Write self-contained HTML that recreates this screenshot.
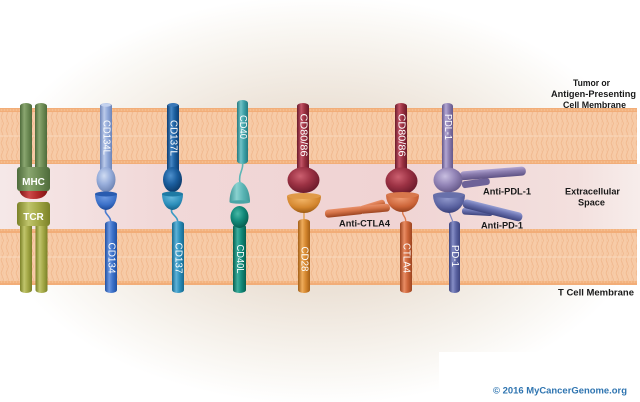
<!DOCTYPE html>
<html><head><meta charset="utf-8"><style>
html,body{margin:0;padding:0;background:#fff;}
svg{display:block;}
text{font-family:"Liberation Sans",Arial,sans-serif;}
.lb{font-weight:bold;font-size:9px;fill:#1a1a1a;}
.rl{font-size:10px;fill:#fff;}
</style></head><body>
<svg width="640" height="402" viewBox="0 0 640 402" xmlns="http://www.w3.org/2000/svg">
<defs>
<radialGradient id="bg" cx="320" cy="200" r="330" gradientUnits="userSpaceOnUse" gradientTransform="translate(320 200) scale(1 0.62) translate(-320 -200)">
<stop offset="0" stop-color="#e6d9cc"/><stop offset="0.45" stop-color="#ece2d7"/><stop offset="0.8" stop-color="#f8f5f0"/><stop offset="1" stop-color="#ffffff"/>
</radialGradient>
<linearGradient id="pink" x1="0" x2="1" y1="0" y2="0">
<stop offset="0" stop-color="#f5e8e8"/><stop offset="0.25" stop-color="#f1d8d8"/><stop offset="0.6" stop-color="#f0d3d3"/><stop offset="0.9" stop-color="#f3e0de"/><stop offset="1" stop-color="#f7edeb"/>
</linearGradient>
<pattern id="lip" width="5" height="26" patternUnits="userSpaceOnUse">
<path d="M1 0 L3.5 6.5 L1 13 L3.5 19.5 L1 26" fill="none" stroke="#eeac80" stroke-width="0.7" opacity="0.8"/>
<path d="M3.5 0 L1 6.5 L3.5 13 L1 19.5 L3.5 26" fill="none" stroke="#f2bb94" stroke-width="0.5" opacity="0.6"/>
</pattern>
<pattern id="bead" width="3" height="4" patternUnits="userSpaceOnUse">
<rect width="3" height="4" fill="#f2ad78"/><circle cx="1.5" cy="2" r="1.1" fill="#f6bd8e"/>
</pattern>
<linearGradient id="g_mhc" x1="0" x2="1"><stop offset="0" stop-color="#4e6b3b"/><stop offset="0.35" stop-color="#8aa670"/><stop offset="0.65" stop-color="#6e8c55"/><stop offset="1" stop-color="#4e6b3b"/></linearGradient>
<linearGradient id="g_tcr" x1="0" x2="1"><stop offset="0" stop-color="#7b8128"/><stop offset="0.35" stop-color="#c0c56c"/><stop offset="0.65" stop-color="#a3a846"/><stop offset="1" stop-color="#7b8128"/></linearGradient>
<linearGradient id="g_red" x1="0" x2="1"><stop offset="0" stop-color="#7e1414"/><stop offset="0.35" stop-color="#cc4a4a"/><stop offset="0.65" stop-color="#b02828"/><stop offset="1" stop-color="#7e1414"/></linearGradient>
<linearGradient id="g_134L" x1="0" x2="1"><stop offset="0" stop-color="#6c84b8"/><stop offset="0.35" stop-color="#bccbea"/><stop offset="0.65" stop-color="#90a8d8"/><stop offset="1" stop-color="#6c84b8"/></linearGradient>
<linearGradient id="g_134" x1="0" x2="1"><stop offset="0" stop-color="#2150a2"/><stop offset="0.35" stop-color="#6a96e0"/><stop offset="0.65" stop-color="#3b70c8"/><stop offset="1" stop-color="#2150a2"/></linearGradient>
<linearGradient id="g_137L" x1="0" x2="1"><stop offset="0" stop-color="#0d3e72"/><stop offset="0.35" stop-color="#4686c4"/><stop offset="0.65" stop-color="#1b5e9e"/><stop offset="1" stop-color="#0d3e72"/></linearGradient>
<linearGradient id="g_137" x1="0" x2="1"><stop offset="0" stop-color="#17698f"/><stop offset="0.35" stop-color="#5eb2d8"/><stop offset="0.65" stop-color="#2b8eba"/><stop offset="1" stop-color="#17698f"/></linearGradient>
<linearGradient id="g_40" x1="0" x2="1"><stop offset="0" stop-color="#257a80"/><stop offset="0.35" stop-color="#70c2c6"/><stop offset="0.65" stop-color="#3c9fa6"/><stop offset="1" stop-color="#257a80"/></linearGradient>
<linearGradient id="g_40b" x1="0" x2="1"><stop offset="0" stop-color="#3f9898"/><stop offset="0.35" stop-color="#8ad2d0"/><stop offset="0.65" stop-color="#5cb6b6"/><stop offset="1" stop-color="#3f9898"/></linearGradient>
<linearGradient id="g_40L" x1="0" x2="1"><stop offset="0" stop-color="#066050"/><stop offset="0.35" stop-color="#3eae9e"/><stop offset="0.65" stop-color="#128a7a"/><stop offset="1" stop-color="#066050"/></linearGradient>
<linearGradient id="g_80" x1="0" x2="1"><stop offset="0" stop-color="#6a1a2a"/><stop offset="0.35" stop-color="#c25466"/><stop offset="0.65" stop-color="#98303f"/><stop offset="1" stop-color="#6a1a2a"/></linearGradient>
<linearGradient id="g_28" x1="0" x2="1"><stop offset="0" stop-color="#a45f16"/><stop offset="0.35" stop-color="#eeac5c"/><stop offset="0.65" stop-color="#d4862e"/><stop offset="1" stop-color="#a45f16"/></linearGradient>
<linearGradient id="g_ct" x1="0" x2="1"><stop offset="0" stop-color="#9c4420"/><stop offset="0.35" stop-color="#e88c64"/><stop offset="0.65" stop-color="#cc6438"/><stop offset="1" stop-color="#9c4420"/></linearGradient>
<linearGradient id="g_pdl" x1="0" x2="1"><stop offset="0" stop-color="#64578a"/><stop offset="0.35" stop-color="#b2a6d2"/><stop offset="0.65" stop-color="#8a7cae"/><stop offset="1" stop-color="#64578a"/></linearGradient>
<linearGradient id="g_pd1" x1="0" x2="1"><stop offset="0" stop-color="#3d447e"/><stop offset="0.35" stop-color="#868ec6"/><stop offset="0.65" stop-color="#5b63a1"/><stop offset="1" stop-color="#3d447e"/></linearGradient>
<linearGradient id="v_ct" x1="0" x2="0" y1="0" y2="1"><stop offset="0" stop-color="#e8906a"/><stop offset="0.4" stop-color="#d8764a"/><stop offset="1" stop-color="#9c4420"/></linearGradient>
<linearGradient id="v_pdl" x1="0" x2="0" y1="0" y2="1"><stop offset="0" stop-color="#b2a6d2"/><stop offset="0.4" stop-color="#8a7cae"/><stop offset="1" stop-color="#5e5284"/></linearGradient>
<linearGradient id="v_pd1" x1="0" x2="0" y1="0" y2="1"><stop offset="0" stop-color="#98a0d4"/><stop offset="0.4" stop-color="#6c74b2"/><stop offset="1" stop-color="#3d447e"/></linearGradient>
<radialGradient id="s_134L" cx="0.4" cy="0.35" r="0.7"><stop offset="0" stop-color="#d0dcf2"/><stop offset="0.5" stop-color="#98aedb"/><stop offset="1" stop-color="#6a80b0"/></radialGradient>
<radialGradient id="s_137L" cx="0.4" cy="0.35" r="0.7"><stop offset="0" stop-color="#4e90cc"/><stop offset="0.5" stop-color="#1b5e9e"/><stop offset="1" stop-color="#0b3866"/></radialGradient>
<radialGradient id="s_40L" cx="0.4" cy="0.35" r="0.7"><stop offset="0" stop-color="#48b8a6"/><stop offset="0.5" stop-color="#128a7a"/><stop offset="1" stop-color="#055a4c"/></radialGradient>
<radialGradient id="s_80" cx="0.4" cy="0.35" r="0.7"><stop offset="0" stop-color="#cc6070"/><stop offset="0.5" stop-color="#9c3244"/><stop offset="1" stop-color="#661828"/></radialGradient>
<radialGradient id="s_pdl" cx="0.4" cy="0.35" r="0.7"><stop offset="0" stop-color="#c8bee0"/><stop offset="0.5" stop-color="#9486b8"/><stop offset="1" stop-color="#625586"/></radialGradient>
<radialGradient id="c_134" cx="0.45" cy="0.2" r="0.8"><stop offset="0" stop-color="#6e9ae2"/><stop offset="0.6" stop-color="#3b70c8"/><stop offset="1" stop-color="#1e4a98"/></radialGradient>
<radialGradient id="c_137" cx="0.45" cy="0.2" r="0.8"><stop offset="0" stop-color="#66b8dc"/><stop offset="0.6" stop-color="#2b8eba"/><stop offset="1" stop-color="#15628a"/></radialGradient>
<radialGradient id="c_28" cx="0.45" cy="0.2" r="0.8"><stop offset="0" stop-color="#f2b466"/><stop offset="0.6" stop-color="#d4862e"/><stop offset="1" stop-color="#9c5a14"/></radialGradient>
<radialGradient id="c_ct" cx="0.45" cy="0.2" r="0.8"><stop offset="0" stop-color="#ee9a72"/><stop offset="0.6" stop-color="#cc6438"/><stop offset="1" stop-color="#94401e"/></radialGradient>
<radialGradient id="c_pd1" cx="0.45" cy="0.2" r="0.8"><stop offset="0" stop-color="#9098cc"/><stop offset="0.6" stop-color="#5b63a1"/><stop offset="1" stop-color="#383f78"/></radialGradient>
</defs>

<rect width="640" height="402" fill="url(#bg)"/>
<rect x="0" y="164" width="640" height="66" fill="url(#pink)"/>
<rect x="439" y="352" width="201" height="50" fill="#ffffff"/>

<g>
<rect x="0" y="108" width="637" height="56" fill="#f7cba7"/>
<rect x="0" y="111" width="637" height="25" fill="url(#lip)"/>
<rect x="0" y="136" width="637" height="25" fill="url(#lip)"/>
<rect x="0" y="135.5" width="637" height="1" fill="#fad8bc"/>
<rect x="0" y="108" width="637" height="4" fill="url(#bead)"/>
<rect x="0" y="160" width="637" height="4" fill="url(#bead)"/>
</g>
<g>
<rect x="0" y="229" width="637" height="56" fill="#f7cba7"/>
<rect x="0" y="232" width="637" height="25" fill="url(#lip)"/>
<rect x="0" y="257" width="637" height="25" fill="url(#lip)"/>
<rect x="0" y="256.5" width="637" height="1" fill="#fad8bc"/>
<rect x="0" y="229" width="637" height="4" fill="url(#bead)"/>
<rect x="0" y="281" width="637" height="4" fill="url(#bead)"/>
</g>

<!-- MHC -->
<rect x="20" y="103" width="12" height="70" rx="6" ry="3" fill="url(#g_mhc)"/>
<rect x="35" y="103" width="12" height="70" rx="6" ry="3" fill="url(#g_mhc)"/>
<path d="M19 187 Q19 199 33.5 199 Q48 199 48 187 Z" fill="url(#g_red)"/>
<rect x="17" y="167" width="33" height="24" rx="3" fill="url(#g_mhc)"/>
<text class="rl" x="33.5" y="185" text-anchor="middle" font-weight="bold" font-size="9">MHC</text>
<!-- TCR -->
<rect x="20" y="218" width="12" height="75" rx="6" ry="3" fill="url(#g_tcr)"/>
<rect x="35.5" y="218" width="12" height="75" rx="6" ry="3" fill="url(#g_tcr)"/>
<rect x="17" y="202" width="33" height="24" rx="3" fill="url(#g_tcr)"/>
<text class="rl" x="33.5" y="220" text-anchor="middle" font-weight="bold" font-size="9">TCR</text>

<!-- CD134L / CD134 -->
<rect x="100" y="103" width="12" height="70" rx="6" ry="3" fill="url(#g_134L)"/>
<ellipse cx="106" cy="105" rx="5" ry="1.8" fill="#c4d2ee"/>
<ellipse cx="106" cy="179.5" rx="9.5" ry="12.5" fill="url(#s_134L)"/>
<path d="M106 209 C103 214 112 216 110.5 223" fill="none" stroke="#4a7cd0" stroke-width="1.6"/>
<path d="M95 194 A11 16 0 0 0 117 194 Z" fill="url(#c_134)"/>
<ellipse cx="106" cy="194" rx="11" ry="2.5" fill="#2a5cb0"/>
<rect x="105" y="221" width="12" height="72" rx="6" ry="3" fill="url(#g_134)"/>

<!-- CD137L / CD137 -->
<rect x="167" y="103" width="12" height="70" rx="6" ry="3" fill="url(#g_137L)"/>
<ellipse cx="173" cy="105" rx="5" ry="1.8" fill="#3a78b8"/>
<ellipse cx="172.5" cy="179.5" rx="9.5" ry="12.5" fill="url(#s_137L)"/>
<path d="M172 209 C169 214 179 216 177.5 223" fill="none" stroke="#3a9ac4" stroke-width="1.6"/>
<path d="M162 194 A10.5 16 0 0 0 183 194 Z" fill="url(#c_137)"/>
<ellipse cx="172.5" cy="194" rx="10.5" ry="2.5" fill="#1f7aa4"/>
<rect x="172" y="221" width="12" height="72" rx="6" ry="3" fill="url(#g_137)"/>

<!-- CD40 / CD40L -->
<rect x="237" y="100" width="11" height="64" rx="5.5" ry="3" fill="url(#g_40)"/>
<path d="M242.5 163 C244 169 238 174 240 183" fill="none" stroke="#5cb6b6" stroke-width="1.6"/>
<path d="M229.5 202 C229.5 191 234 182 239.5 182 C245 182 250 191 250 202 Z" fill="url(#g_40b)"/>
<ellipse cx="239.8" cy="202" rx="10.3" ry="1.8" fill="#4aa6a6"/>
<rect x="233" y="224" width="13" height="69" rx="6.5" ry="3" fill="url(#g_40L)"/>
<ellipse cx="239.5" cy="217" rx="9" ry="11" fill="url(#s_40L)"/>

<!-- CD80/86 / CD28 -->
<rect x="297" y="103" width="12" height="70" rx="6" ry="3" fill="url(#g_80)"/>
<ellipse cx="303.5" cy="180" rx="16" ry="13" fill="url(#s_80)"/>
<line x1="304" y1="212" x2="304" y2="220" stroke="#e0a050" stroke-width="1.4"/>
<path d="M287 196 A17 17 0 0 0 321 196 Z" fill="url(#c_28)"/>
<ellipse cx="304" cy="196" rx="17" ry="3" fill="#e09a48"/>
<rect x="298" y="219" width="12" height="74" rx="6" ry="3" fill="url(#g_28)"/>

<!-- CD80/86 / CTLA4 -->
<rect x="395" y="103" width="12" height="70" rx="6" ry="3" fill="url(#g_80)"/>
<ellipse cx="401.5" cy="181" rx="16" ry="13.5" fill="url(#s_80)"/>
<path d="M403 211 C401 215 407 217 405.5 222" fill="none" stroke="#dc7a50" stroke-width="1.4"/>
<g transform="translate(325 214) rotate(-6)"><rect x="0" y="-4" width="39" height="8" rx="3.5" fill="url(#v_ct)"/></g>
<g transform="translate(360 210) rotate(-17)"><rect x="0" y="-3.5" width="26" height="7" rx="3" fill="url(#v_ct)"/></g>
<g transform="translate(360 210) rotate(-5)"><rect x="0" y="-4" width="30" height="8" rx="3.5" fill="url(#v_ct)"/></g>
<path d="M386 195 A16.5 17 0 0 0 419 195 Z" fill="url(#c_ct)"/>
<ellipse cx="402.5" cy="195" rx="16.5" ry="3" fill="#d8784c"/>
<rect x="400" y="221" width="12" height="72" rx="6" ry="3" fill="url(#g_ct)"/>

<!-- PDL-1 / PD-1 -->
<rect x="442" y="103" width="11" height="70" rx="5.5" ry="3" fill="url(#g_pdl)"/>
<g transform="translate(462 185) rotate(-8)"><rect x="0" y="-3.5" width="28" height="7" rx="3" fill="#6e6298"/></g>
<g transform="translate(460 176) rotate(-4.5)"><rect x="0" y="-4.5" width="66" height="9" rx="4" fill="url(#v_pdl)"/></g>
<ellipse cx="448" cy="180" rx="14.5" ry="12.5" fill="url(#s_pdl)"/>
<line x1="449" y1="212" x2="453" y2="222" stroke="#8088c0" stroke-width="1.2"/>
<g transform="translate(462 211) rotate(3)"><rect x="0" y="-3.5" width="31" height="7" rx="3" fill="url(#v_pd1)"/></g>
<g transform="translate(463 203) rotate(14)"><rect x="0" y="-4.5" width="61" height="9" rx="4" fill="url(#v_pd1)"/></g>
<path d="M433 195 A16 18 0 0 0 465 195 Z" fill="url(#c_pd1)"/>
<ellipse cx="449" cy="195" rx="16" ry="3" fill="#6870aa"/>
<rect x="449" y="221" width="11" height="72" rx="5.5" ry="3" fill="url(#g_pd1)"/>

<!-- rod labels -->
<text class="rl" transform="translate(106 137.5) rotate(90)" text-anchor="middle" dominant-baseline="central" textLength="35" lengthAdjust="spacingAndGlyphs">CD134L</text>
<text class="rl" transform="translate(173 138) rotate(90)" text-anchor="middle" dominant-baseline="central" textLength="36" lengthAdjust="spacingAndGlyphs">CD137L</text>
<text class="rl" transform="translate(242.5 127) rotate(90)" text-anchor="middle" dominant-baseline="central" textLength="24" lengthAdjust="spacingAndGlyphs">CD40</text>
<text class="rl" transform="translate(303 135) rotate(90)" text-anchor="middle" dominant-baseline="central" textLength="43" lengthAdjust="spacingAndGlyphs">CD80/86</text>
<text class="rl" transform="translate(401 135) rotate(90)" text-anchor="middle" dominant-baseline="central" textLength="43" lengthAdjust="spacingAndGlyphs">CD80/86</text>
<text class="rl" transform="translate(447.5 127) rotate(90)" text-anchor="middle" dominant-baseline="central" textLength="26" lengthAdjust="spacingAndGlyphs">PDL-1</text>
<text class="rl" transform="translate(111 258) rotate(90)" text-anchor="middle" dominant-baseline="central" textLength="31" lengthAdjust="spacingAndGlyphs">CD134</text>
<text class="rl" transform="translate(178 258) rotate(90)" text-anchor="middle" dominant-baseline="central" textLength="31" lengthAdjust="spacingAndGlyphs">CD137</text>
<text class="rl" transform="translate(239.5 259) rotate(90)" text-anchor="middle" dominant-baseline="central" textLength="29" lengthAdjust="spacingAndGlyphs">CD40L</text>
<text class="rl" transform="translate(304 259) rotate(90)" text-anchor="middle" dominant-baseline="central" textLength="25" lengthAdjust="spacingAndGlyphs">CD28</text>
<text class="rl" transform="translate(406 258) rotate(90)" text-anchor="middle" dominant-baseline="central" textLength="30" lengthAdjust="spacingAndGlyphs">CTLA4</text>
<text class="rl" transform="translate(454.5 256) rotate(90)" text-anchor="middle" dominant-baseline="central" textLength="22" lengthAdjust="spacingAndGlyphs">PD-1</text>

<!-- labels -->
<text class="lb" x="339" y="226.5" textLength="51" lengthAdjust="spacingAndGlyphs">Anti-CTLA4</text>
<text class="lb" x="483" y="194.5" textLength="48" lengthAdjust="spacingAndGlyphs">Anti-PDL-1</text>
<text class="lb" x="481" y="228.5" textLength="42" lengthAdjust="spacingAndGlyphs">Anti-PD-1</text>
<text class="lb" x="573" y="86" textLength="37" lengthAdjust="spacingAndGlyphs">Tumor or</text>
<text class="lb" x="551" y="97" textLength="85" lengthAdjust="spacingAndGlyphs">Antigen-Presenting</text>
<text class="lb" x="563" y="108" textLength="63" lengthAdjust="spacingAndGlyphs">Cell Membrane</text>
<text class="lb" x="565" y="194.5" textLength="55" lengthAdjust="spacingAndGlyphs">Extracellular</text>
<text class="lb" x="578" y="205.5" textLength="27" lengthAdjust="spacingAndGlyphs">Space</text>
<text class="lb" x="558" y="295.5" textLength="76" lengthAdjust="spacingAndGlyphs">T Cell Membrane</text>
<text x="493" y="393.5" font-weight="bold" font-size="9.5" fill="#2e74b0" textLength="134" lengthAdjust="spacingAndGlyphs">© 2016 MyCancerGenome.org</text>
</svg>
</body></html>
